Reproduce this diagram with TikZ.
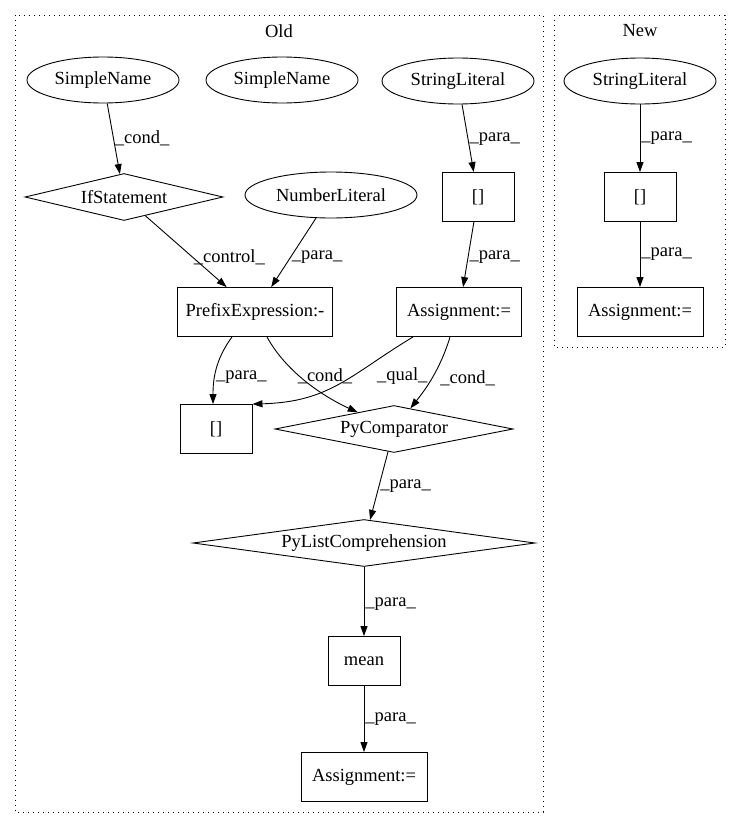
\documentclass[tikz,border=0pt]{standalone}
\usepackage{fontspec}
\setmainfont{Liberation Serif}
\usetikzlibrary{shapes.geometric,arrows.meta}

\begin{document}
\begin{tikzpicture}[x=1pt, y=-1pt, line width=0.9pt,
  font=\fontsize{18.5}{22}\selectfont,
  >={Triangle[length=10pt,width=7pt]},
  leaf/.style={ellipse, minimum width=152pt, minimum height=46pt, inner sep=0pt},
  box/.style={rectangle, minimum width=72pt, minimum height=49pt, inner sep=0pt},
  test/.style={diamond, minimum height=47pt, inner sep=0pt, shape aspect=6},
  lab/.style={draw=none, anchor=west, inner sep=1pt},
  cluster/.style={dash pattern=on 1pt off 4pt}]
 \useasboundingbox (0,0) rectangle (741,828);

 % clusters
 \draw[cluster] (15,15) rectangle (543,812);
 \draw[cluster] (554,15) rectangle (725,347);
 \node (oldnote) at (279,31) {Old};
 \node (newnote) at (640,31) {New};

 \begin{scope}[every node/.append style={draw=black}]
    \node[leaf] (sn1) at (103,80) {SimpleName};
    \node[leaf] (sn2) at (282,80) {SimpleName};
    \node[leaf] (str1) at (458,81) {StringLiteral};
    \node[test, minimum width=198pt] (ifs) at (124,197) {IfStatement};
    \node[leaf, minimum width=172pt] (num) at (331,195) {NumberLiteral};
    \node[box] (brk1) at (478,197) {[]};
    \node[box, minimum width=155pt] (pfx) at (255,312) {PrefixExpression:-};
    \node[box, minimum width=125pt] (asg1) at (459,312) {Assignment:=};
    \node[box] (brk2) at (216,429) {[]};
    \node[test, minimum width=238pt] (cmp) at (394,429) {PyComparator};
    \node[test, minimum width=342pt] (plc) at (364,543) {PyListComprehension};
    \node[box] (mean) at (364,661) {mean};
    \node[box, minimum width=126pt] (asg2) at (364,777) {Assignment:=};

    % new version
    \node[leaf] (str2) at (640,81) {StringLiteral};
    \node[box] (brk3) at (640,197) {[]};
    \node[box, minimum width=126pt] (asg3) at (640,312) {Assignment:=};

    \begin{scope}[every path/.style={->}]
      \draw (sn1) -- node[lab, pos=0.5] {\_cond\_} (ifs);
      \draw (ifs) -- node[lab, pos=0.58] {\_control\_} (pfx);
      \draw (num) -- node[lab, pos=0.57] {\_para\_} (pfx);
      \draw (str1) -- node[lab, pos=0.52] {\_para\_} (brk1);
      \draw (brk1) -- node[lab, pos=0.54] {\_para\_} (asg1);

      \draw ([xshift=-23pt]pfx.south) .. controls (215,360) and (213,380) .. ([xshift=-3pt]brk2.north)
            node[lab, pos=0.6] {\_para\_};
      \draw ([xshift=12pt]pfx.south) .. controls (285,370) and (320,395) .. (cmp)
            node[lab, pos=0.45, xshift=-4pt] {\_cond\_};
      \draw ([xshift=-46pt]asg1.south) .. controls (350,375) and (330,402) .. (brk2.north east)
            node[lab, pos=0.4, xshift=24pt] {\_qual\_};
      \draw ([xshift=-9pt]asg1.south) .. controls (440,370) and (425,390) .. (cmp)
            node[lab, pos=0.5, xshift=7pt] {\_cond\_};

      \draw (cmp) -- node[lab, pos=0.5] {\_para\_} (plc);
      \draw (plc) -- node[lab, pos=0.54] {\_para\_} (mean);
      \draw (mean) -- node[lab, pos=0.5] {\_para\_} (asg2);

      \draw (str2) -- node[lab, pos=0.5] {\_para\_} (brk3);
      \draw (brk3) -- node[lab, pos=0.5] {\_para\_} (asg3);
    \end{scope}
 \end{scope}
\end{tikzpicture}
\end{document}
